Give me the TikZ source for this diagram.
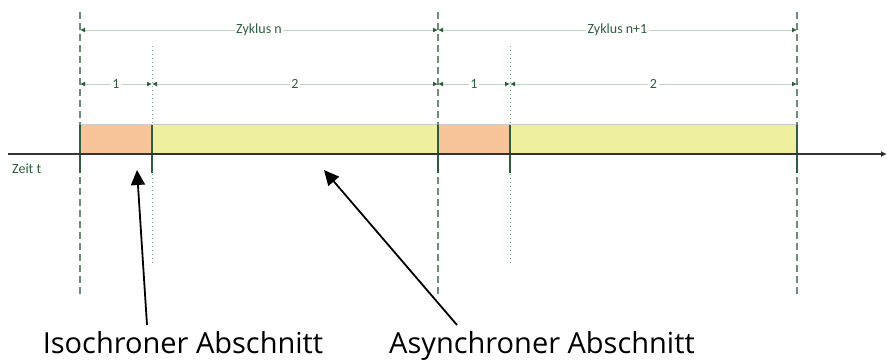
\documentclass[tikz,border=0pt]{standalone}
\usepackage{fontspec}
\setmainfont{Open Sans}
\newfontfamily\smallfont{Carlito}
\usetikzlibrary{arrows.meta}
\definecolor{isoorange}{HTML}{F8C49A}
\definecolor{asyyellow}{HTML}{EEF0A0}
\definecolor{dimgreen}{HTML}{2F5E3E}
\definecolor{bndgreen}{HTML}{6A8F76}
\definecolor{dimline}{HTML}{C4D2C8}
\tikzset{
  bound/.style={draw=bndgreen, line width=1.1pt, dash pattern=on 7pt off 4pt},
  subbound/.style={draw=bndgreen!80, line width=0.8pt, dash pattern=on 1pt off 3pt},
  tickmark/.style={draw=dimgreen, line width=1.3pt},
  dimarrow/.style={draw=dimline, line width=0.9pt,
    {Latex[length=5pt,width=5pt,color=dimgreen]}-{Latex[length=5pt,width=5pt,color=dimgreen]}},
  dimlabel/.style={fill=white, inner sep=1.5pt, text=dimgreen, font=\smallfont\fontsize{14}{16}\selectfont},
  bigtext/.style={font=\fontsize{29}{34}\selectfont, inner sep=0pt, anchor=base},
  pointer/.style={draw=black, line width=1.8pt, -{Triangle[length=15pt,width=14pt]}}
}
\begin{document}
\begin{tikzpicture}[x=1pt,y=-1pt]
\useasboundingbox (0,0) rectangle (887,360);
% bars
\fill[isoorange] (80,124) rectangle (152,154);
\fill[asyyellow] (152,124) rectangle (438,154);
\fill[isoorange] (438,124) rectangle (510,154);
\fill[asyyellow] (510,124) rectangle (797,154);
\draw[black!20, line width=0.6pt] (80,124) -- (797,124);
% boundary lines
\foreach \x in {80,438,797} {\draw[bound] (\x,12) -- (\x,295);}
\foreach \x in {152,510} {\draw[subbound] (\x,46) -- (\x,264);}
\foreach \x in {80,152,438,510,797} {\draw[tickmark] (\x,125) -- (\x,173);}
% time axis
\coordinate (t0) at (8,154);
\coordinate (t1) at (887,154);
\draw[black!80, line width=1.3pt, -{Latex[length=6pt,width=6pt]}] (t0) -- (t1);
\node[text=dimgreen, font=\smallfont\fontsize{14}{16}\selectfont, anchor=west, inner sep=0pt] (zeit) at (12,169) {Zeit t};
% dimension lines
\draw[dimarrow] (80,30) -- node[dimlabel] (zn) {Zyklus n} (438,30);
\draw[dimarrow] (438,30) -- node[dimlabel] (zn1) {Zyklus n+1} (797,30);
\draw[dimarrow] (80,84) -- node[dimlabel] (l1) {1} (152,84);
\draw[dimarrow] (152,84) -- node[dimlabel] (l2) {2} (438,84);
\draw[dimarrow] (438,84) -- node[dimlabel] (l3) {1} (510,84);
\draw[dimarrow] (510,84) -- node[dimlabel] (l4) {2} (797,84);
% labels and pointers
\node[bigtext] (iso) at (183,353) {Isochroner Abschnitt};
\node[bigtext] (asy) at (542,353) {Asynchroner Abschnitt};
\coordinate (isotip) at (137,170);
\coordinate (asytip) at (324,170);
\draw[pointer] ([xshift=-36pt,yshift=28pt]iso.base) -- (isotip);
\draw[pointer] ([xshift=-85pt,yshift=28pt]asy.base) -- (asytip);
\end{tikzpicture}
\end{document}
